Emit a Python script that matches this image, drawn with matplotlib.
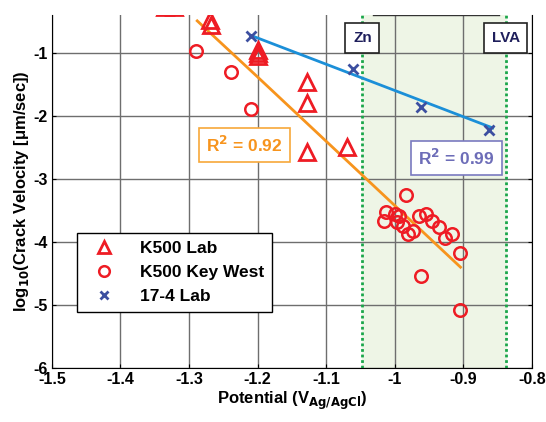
import numpy as np
import matplotlib
matplotlib.use('Agg')
import matplotlib.pyplot as plt

plt.rcParams['font.family'] = ['Liberation Sans', 'DejaVu Sans']
plt.rcParams['font.weight'] = 'bold'

# K500 Lab (triangulos)
lab_x = [-1.335, -1.322, -1.27, -1.268, -1.2, -1.2, -1.2, -1.128, -1.128, -1.128, -1.07]
lab_y = [-0.27, -0.27, -0.47, -0.56, -0.95, -1.0, -1.05, -1.46, -1.8, -2.57, -2.49]

# K500 Key West (circulos)
kw_x = [-1.29, -1.239, -1.21, -0.984, -1.012, -1.015, -1.0, -0.997, -0.993, -0.988,
        -0.981, -0.974, -0.965, -0.955, -0.945, -0.936, -0.927, -0.917, -0.905,
        -0.962, -0.904]
kw_y = [-0.97, -1.30, -1.89, -3.25, -3.52, -3.66, -3.56, -3.69, -3.59, -3.74,
        -3.88, -3.83, -3.59, -3.56, -3.66, -3.77, -3.93, -3.88, -4.18,
        -4.54, -5.08]

# 17-4 Lab (x)
ss_x = [-1.21, -1.061, -0.961, -0.863]
ss_y = [-0.73, -1.25, -1.86, -2.23]

# linhas de tendencia
fit_k500_x = [-1.288, -1.2, -0.904]
fit_k500_y = [-0.49, -1.38, -4.40]
fit_ss_x = [-1.21, -0.857]
fit_ss_y = [-0.72, -2.19]

# regiao de protecao catodica (Zn ate LVA)
zona_x = [-1.047, -0.838]

fig = plt.figure(figsize=(5.46, 4.22), dpi=100)
ax = fig.add_axes([0.095, 0.128, 0.879, 0.836])

ax.axvspan(zona_x[0], zona_x[1], color='#eef5e6', zorder=0)
for xv in zona_x:
    ax.axvline(xv, color='#1aa64a', ls=(0, (1, 1)), lw=2, zorder=1)
ax.plot([zona_x[0] + 0.015, zona_x[1] - 0.01], [-0.4, -0.4], color='#333333', lw=1, zorder=1)

ax.grid(True, color='#6e6e6e', lw=1, zorder=0.5)
ax.set_axisbelow(True)

ax.plot(fit_k500_x, fit_k500_y, color='#f7941d', lw=2, zorder=3)
ax.plot(fit_ss_x, fit_ss_y, color='#1b8fd8', lw=2, zorder=3)

ax.plot(lab_x, lab_y, ls='none', marker='^', ms=11, mfc='none', mec='#ee1c24', mew=2,
        label='K500 Lab', zorder=4)
ax.plot(kw_x, kw_y, ls='none', marker='o', ms=9, mfc='none', mec='#ee1c24', mew=1.8,
        label='K500 Key West', zorder=4)
ax.plot(ss_x, ss_y, ls='none', marker='x', ms=7, mec='#3c4fa0', mew=2,
        label='17-4 Lab', zorder=5)

ax.set_xlim(-1.5, -0.8)
ax.set_ylim(-6, -0.4)
ax.set_xticks(np.arange(-1.5, -0.79, 0.1))
ax.set_xticklabels(['-1.5', '-1.4', '-1.3', '-1.2', '-1.1', '-1', '-0.9', '-0.8'])
ax.set_yticks([-6, -5, -4, -3, -2, -1])
ax.set_yticklabels(['-6', '-5', '-4', '-3', '-2', '-1'])
ax.tick_params(direction='in', right=True, top=False, length=3, labelsize=11.5, pad=3)
ax.spines['top'].set_visible(False)

ax.set_xlabel('Potential (V$_{\\mathbf{Ag/AgCl}}$)', fontsize=12, fontweight='bold', labelpad=2)
ax.set_ylabel('log$_{\\mathbf{10}}$(Crack Velocity [μm/sec])', fontsize=12, fontweight='bold', labelpad=2)

ax.text(-1.219, -2.46, 'R$^{\\mathbf{2}}$ = 0.92', color='#f7941d', fontsize=12.5, ha='center', va='center',
        bbox=dict(boxstyle='square,pad=0.4', fc='white', ec='#f7a83a', lw=1.2), zorder=6)
ax.text(-0.91, -2.66, 'R$^{\\mathbf{2}}$ = 0.99', color='#6d6db8', fontsize=12.5, ha='center', va='center',
        bbox=dict(boxstyle='square,pad=0.4', fc='white', ec='#7a7ac0', lw=1.2), zorder=6)

for xv, nome in zip(zona_x, ['Zn', 'LVA']):
    ax.text(xv, -0.76, nome, color='#1f1f5c', fontsize=11, ha='center', va='center',
            bbox=dict(boxstyle='square,pad=0.5', fc='white', ec='#222222', lw=1.2), zorder=6)

leg = ax.legend(loc='upper left', bbox_to_anchor=(0.052, 0.382), borderaxespad=0,
                fontsize=12.5, frameon=True, fancybox=False, edgecolor='black', framealpha=1,
                handletextpad=1.0, borderpad=0.45, labelspacing=0.5, handlelength=2.2,
                markerscale=0.85)
leg.get_frame().set_linewidth(1)

fig.savefig('out.png', dpi=100)
